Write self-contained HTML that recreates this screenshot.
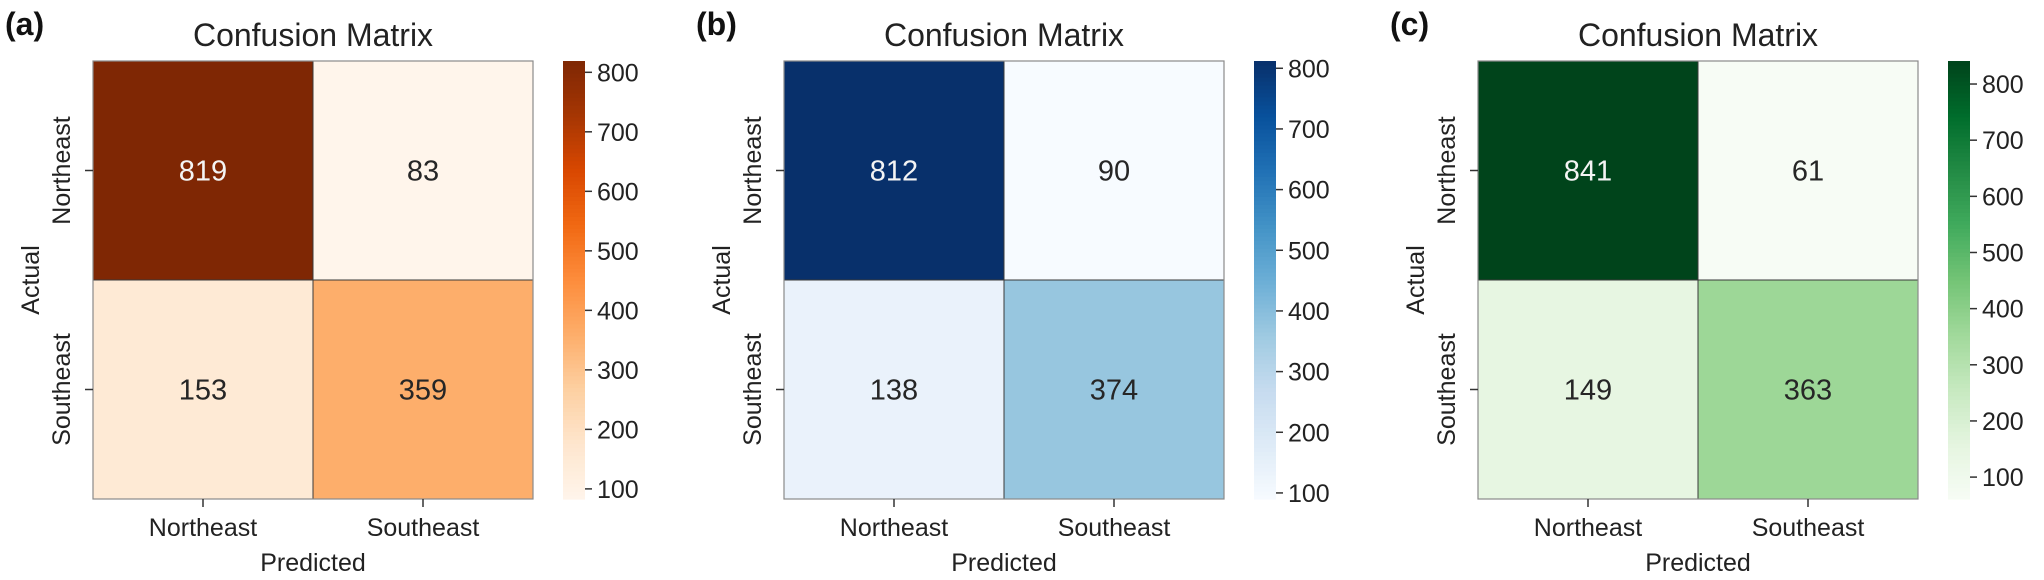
<!DOCTYPE html>
<html><head><meta charset="utf-8"><style>
html,body{margin:0;padding:0;background:#fff;}
svg{display:block;font-family:"Liberation Sans",Arial,sans-serif;}
</style></head><body>
<svg id="fig" width="2044" height="580" viewBox="0 0 2044 580"></svg>
<script>
const categories = ["Northeast","Southeast"];
const panelLabels = ["(a)","(b)","(c)"];
const valuesA = [[819,83],[153,359]];
const valuesB = [[812,90],[138,374]];
const valuesC = [[841,61],[149,363]];
const colorbarTicks = [100,200,300,400,500,600,700,800];

const cmaps = [
 ["#fff5eb","#fee6ce","#fdd0a2","#fdae6b","#fd8d3c","#f16913","#d94801","#a63603","#7f2704"],
 ["#f7fbff","#deebf7","#c6dbef","#9ecae1","#6baed6","#4292c6","#2171b5","#08519c","#08306b"],
 ["#f7fcf5","#e5f5e0","#c7e9c0","#a1d99b","#74c476","#41ab5d","#238b45","#006d2c","#00441b"]
];
const panelNames = ["panel-a","panel-b","panel-c"];
const allValues = [valuesA, valuesB, valuesC];
const lefts = [93, 784, 1478];
const NS = "http://www.w3.org/2000/svg";
const svg = document.getElementById("fig");

function hex(h){return [1,3,5].map(i=>parseInt(h.substr(i,2),16));}
function cmap(stops,t){
  t=Math.max(0,Math.min(1,t));
  const p=t*(stops.length-1), i=Math.min(Math.floor(p),stops.length-2), f=p-i;
  const a=hex(stops[i]), b=hex(stops[i+1]);
  return a.map((v,k)=>Math.round(v+(b[k]-v)*f));
}
function rgb(c){return "rgb("+c.join(",")+")";}
function mk(tag, attrs, parent){
  const e=document.createElementNS(NS,tag);
  for(const k in attrs) e.setAttribute(k,attrs[k]);
  (parent||svg).appendChild(e); return e;
}

const top0 = 61, H = 438, W = 440;

allValues.forEach((vals, p) => {
  const stops = cmaps[p];
  const L = lefts[p];
  const flat = vals.flat();
  const vmin = Math.min(...flat), vmax = Math.max(...flat);
  const g = mk("g", {});
  
  
  const n = categories.length;
  const cw = W/n, ch = H/n;
  const xScale = j => L + j*cw;
  const yScale = i => top0 + i*ch;
  const tNorm = v => (v - vmin)/(vmax - vmin);

  const lab = mk("text", {x: L-88, y: 35, "font-size": 32, "font-weight": "bold", fill: "#111"}, g);
  lab.textContent = panelLabels[p];
  
  

  const title = mk("text", {x: L+W/2, y: 46, "font-size": 32, "text-anchor": "middle", fill: "#222"}, g);
  title.textContent = "Confusion Matrix";
  
  

  for (let i=0;i<n;i++) for (let j=0;j<n;j++){
    const v = vals[i][j];
    const c = cmap(stops, tNorm(v));
    const r = mk("rect", {x: xScale(j), y: yScale(i), width: cw, height: ch, fill: rgb(c), stroke: "#3a3a3a", "stroke-width": 1}, g);
    
    
    const lum = (0.299*c[0]+0.587*c[1]+0.114*c[2])/255;
    const t = mk("text", {x: xScale(j)+cw/2, y: yScale(i)+ch/2+10, "font-size": 29, "text-anchor": "middle", fill: lum < 0.5 ? "#f4f4f4" : "#262626"}, g);
    t.textContent = v;
    
    
  }
  const border = mk("rect", {x: L, y: top0, width: W, height: H, fill: "none", stroke: "#8a8a8a", "stroke-width": 1.2}, g);
  
  

  categories.forEach((c, k) => {
    const cx = xScale(k)+cw/2;
    mk("line", {x1: cx, x2: cx, y1: top0+H, y2: top0+H+8, stroke: "#333", "stroke-width": 1.5}, g);
    const xt = mk("text", {x: cx, y: top0+H+37, "font-size": 25, "text-anchor": "middle", fill: "#222"}, g);
    xt.textContent = c;
    
    
    const cy = yScale(k)+ch/2;
    mk("line", {x1: L-8, x2: L, y1: cy, y2: cy, stroke: "#333", "stroke-width": 1.5}, g);
    const yt = mk("text", {x: 0, y: 0, "font-size": 25, "text-anchor": "middle", fill: "#222", transform: `translate(${L-23},${cy}) rotate(-90)`}, g);
    yt.textContent = c;
    
    
  });
  const xl = mk("text", {x: L+W/2, y: 571, "font-size": 25, "text-anchor": "middle", fill: "#222"}, g);
  xl.textContent = "Predicted";
  
  
  const yl = mk("text", {x: 0, y: 0, "font-size": 25, "text-anchor": "middle", fill: "#222", transform: `translate(${L-54},${top0+H/2}) rotate(-90)`}, g);
  yl.textContent = "Actual";
  
  

  const cbx = L + W + 30, cbw = 22;
  const cb = mk("g", {}, g);
  
  
  const steps = 110;
  for (let s=0;s<steps;s++){
    const y = top0 + H - (s+1)*H/steps;
    mk("rect", {x: cbx, y: y, width: cbw, height: H/steps+0.6, fill: rgb(cmap(stops, (s+0.5)/steps))}, cb);
  }
  const cbScale = v => top0 + H - (v - vmin)/(vmax - vmin)*H;
  colorbarTicks.forEach(v => {
    if (v < vmin || v > vmax) return;
    const y = cbScale(v);
    mk("line", {x1: cbx+cbw, x2: cbx+cbw+7, y1: y, y2: y, stroke: "#333", "stroke-width": 1.5}, cb);
    const tt = mk("text", {x: cbx+cbw+12, y: y+9, "font-size": 25, fill: "#222"}, cb);
    tt.textContent = v;
    
    
  });
});
</script>
</body></html>
